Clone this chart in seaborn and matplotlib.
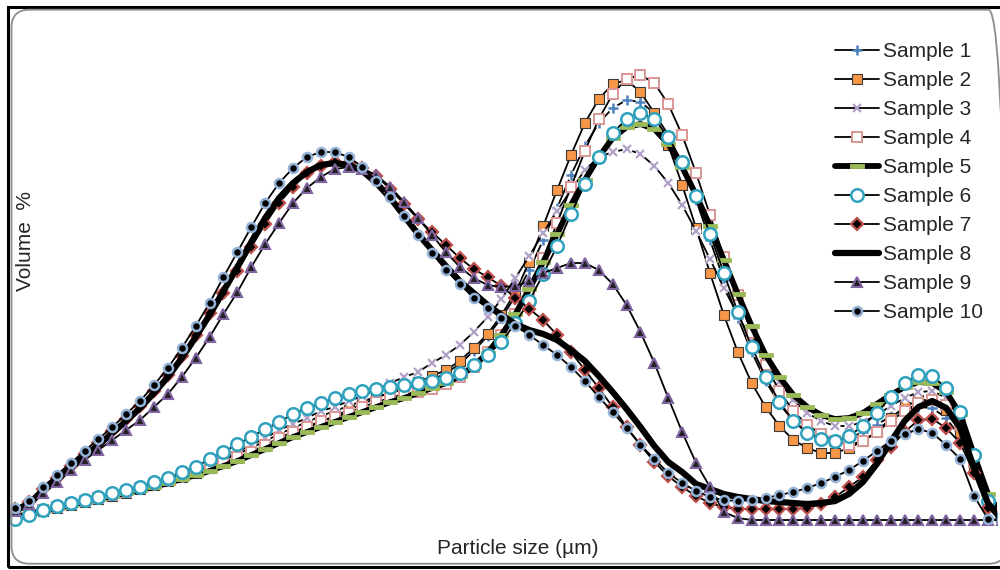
import numpy as np
import pandas as pd
import matplotlib
matplotlib.use("Agg")
import matplotlib.pyplot as plt
import seaborn as sns
from matplotlib.patches import Rectangle, FancyBboxPatch
from matplotlib.lines import Line2D

# ---------------------------------------------
# data : volume % per size class (72 classes)
# ---------------------------------------------
size_class = list(range(72))

sample1 = [0.03, 0.06, 0.10, 0.13, 0.16, 0.19, 0.22, 0.25, 0.29, 0.33, 0.37, 0.41,
           0.45, 0.50, 0.55, 0.60, 0.66, 0.72, 0.79, 0.86, 0.92, 0.98, 1.04, 1.09,
           1.14, 1.19, 1.23, 1.27, 1.31, 1.35, 1.40, 1.47, 1.56, 1.69, 1.84, 2.02,
           2.24, 2.50, 2.80, 3.12, 3.45, 3.74, 3.97, 4.12, 4.20, 4.18, 4.07, 3.85,
           3.55, 3.20, 2.80, 2.40, 2.02, 1.68, 1.39, 1.16, 0.99, 0.88, 0.82, 0.80,
           0.82, 0.88, 0.95, 1.04, 1.10, 1.13, 1.12, 1.02, 0.83, 0.50, 0.15, 0.02]

sample2 = [0.03, 0.06, 0.09, 0.12, 0.15, 0.18, 0.21, 0.24, 0.27, 0.31, 0.35, 0.39,
           0.43, 0.47, 0.52, 0.57, 0.62, 0.68, 0.74, 0.80, 0.86, 0.92, 0.98, 1.04,
           1.10, 1.16, 1.22, 1.28, 1.33, 1.38, 1.44, 1.50, 1.59, 1.72, 1.86, 2.05,
           2.28, 2.58, 2.94, 3.30, 3.65, 3.97, 4.21, 4.36, 4.40, 4.28, 4.07, 3.75,
           3.35, 2.92, 2.47, 2.05, 1.68, 1.37, 1.13, 0.94, 0.80, 0.72, 0.67, 0.67,
           0.72, 0.79, 0.88, 1.02, 1.13, 1.20, 1.20, 1.10, 0.88, 0.50, 0.15, 0.02]

sample3 = [0.03, 0.06, 0.10, 0.13, 0.16, 0.19, 0.22, 0.25, 0.28, 0.31, 0.35, 0.39,
           0.43, 0.48, 0.54, 0.61, 0.68, 0.75, 0.82, 0.90, 0.96, 1.02, 1.09, 1.13,
           1.19, 1.24, 1.30, 1.37, 1.43, 1.48, 1.57, 1.65, 1.75, 1.88, 2.03, 2.21,
           2.42, 2.64, 2.87, 3.09, 3.30, 3.50, 3.63, 3.68, 3.71, 3.66, 3.54, 3.37,
           3.15, 2.89, 2.61, 2.32, 2.05, 1.80, 1.58, 1.38, 1.20, 1.07, 0.99, 0.94,
           0.94, 0.98, 1.05, 1.14, 1.22, 1.28, 1.29, 1.22, 1.00, 0.58, 0.20, 0.03]

sample4 = [0.03, 0.06, 0.10, 0.13, 0.16, 0.19, 0.22, 0.25, 0.28, 0.32, 0.36, 0.40,
           0.44, 0.48, 0.53, 0.57, 0.63, 0.68, 0.75, 0.82, 0.88, 0.93, 0.99, 1.03,
           1.07, 1.13, 1.18, 1.22, 1.26, 1.28, 1.31, 1.36, 1.43, 1.53, 1.68, 1.85,
           2.06, 2.30, 2.62, 2.97, 3.33, 3.69, 4.01, 4.26, 4.41, 4.45, 4.37, 4.16,
           3.85, 3.47, 3.05, 2.63, 2.25, 1.87, 1.55, 1.29, 1.09, 0.95, 0.86, 0.79,
           0.75, 0.79, 0.88, 0.99, 1.09, 1.17, 1.20, 1.15, 0.95, 0.58, 0.22, 0.03]

sample5 = [0.03, 0.06, 0.09, 0.12, 0.15, 0.18, 0.21, 0.24, 0.27, 0.30, 0.33, 0.37,
           0.41, 0.45, 0.49, 0.54, 0.59, 0.65, 0.71, 0.77, 0.83, 0.88, 0.93, 0.98,
           1.03, 1.08, 1.13, 1.18, 1.22, 1.27, 1.32, 1.37, 1.44, 1.54, 1.67, 1.85,
           2.06, 2.31, 2.58, 2.86, 3.15, 3.40, 3.63, 3.82, 3.93, 3.96, 3.91, 3.76,
           3.53, 3.25, 2.94, 2.60, 2.26, 1.94, 1.65, 1.43, 1.25, 1.13, 1.05, 1.01,
           1.02, 1.07, 1.16, 1.25, 1.33, 1.38, 1.37, 1.28, 1.06, 0.65, 0.26, 0.04]

sample6 = [0.01, 0.05, 0.10, 0.14, 0.17, 0.20, 0.23, 0.27, 0.30, 0.33, 0.38, 0.42,
           0.48, 0.53, 0.61, 0.68, 0.76, 0.83, 0.91, 0.98, 1.06, 1.12, 1.17, 1.22,
           1.26, 1.29, 1.31, 1.33, 1.35, 1.37, 1.39, 1.42, 1.47, 1.55, 1.65, 1.78,
           1.97, 2.19, 2.46, 2.74, 3.06, 3.36, 3.63, 3.87, 4.01, 4.07, 4.01, 3.83,
           3.58, 3.24, 2.86, 2.47, 2.08, 1.73, 1.43, 1.18, 0.99, 0.87, 0.81, 0.79,
           0.84, 0.94, 1.07, 1.23, 1.37, 1.45, 1.44, 1.32, 1.08, 0.65, 0.19, 0.02]

sample7 = [0.11, 0.18, 0.31, 0.42, 0.54, 0.66, 0.77, 0.89, 1.01, 1.14, 1.29, 1.45,
           1.64, 1.85, 2.07, 2.27, 2.49, 2.73, 2.96, 3.17, 3.33, 3.47, 3.54, 3.58,
           3.57, 3.52, 3.44, 3.31, 3.16, 3.01, 2.88, 2.75, 2.62, 2.51, 2.43, 2.34,
           2.22, 2.11, 2.00, 1.85, 1.68, 1.50, 1.32, 1.13, 0.93, 0.75, 0.58, 0.44,
           0.33, 0.24, 0.17, 0.13, 0.11, 0.11, 0.11, 0.11, 0.11, 0.12, 0.16, 0.23,
           0.33, 0.43, 0.60, 0.73, 0.88, 1.00, 1.01, 0.92, 0.77, 0.47, 0.12, 0.00]

sample8 = [0.09, 0.16, 0.29, 0.40, 0.52, 0.64, 0.75, 0.87, 0.99, 1.12, 1.27, 1.43,
           1.62, 1.83, 2.05, 2.29, 2.53, 2.78, 3.02, 3.22, 3.37, 3.48, 3.55, 3.57,
           3.55, 3.49, 3.37, 3.22, 3.04, 2.86, 2.70, 2.54, 2.39, 2.27, 2.15, 2.05,
           1.96, 1.90, 1.86, 1.80, 1.70, 1.59, 1.44, 1.28, 1.11, 0.93, 0.74, 0.58,
           0.48, 0.36, 0.31, 0.26, 0.23, 0.21, 0.19, 0.18, 0.17, 0.16, 0.17, 0.19,
           0.26, 0.38, 0.56, 0.78, 0.99, 1.13, 1.19, 1.12, 0.92, 0.52, 0.17, 0.00]

sample9 = [0.09, 0.16, 0.27, 0.38, 0.50, 0.60, 0.70, 0.80, 0.90, 1.00, 1.13, 1.26,
           1.43, 1.62, 1.83, 2.06, 2.28, 2.53, 2.76, 2.97, 3.17, 3.32, 3.43, 3.51,
           3.53, 3.51, 3.45, 3.33, 3.18, 3.02, 2.85, 2.68, 2.53, 2.42, 2.35, 2.33,
           2.34, 2.39, 2.47, 2.52, 2.57, 2.57, 2.50, 2.36, 2.15, 1.88, 1.57, 1.22,
           0.88, 0.57, 0.33, 0.08, 0.02, 0.00, 0.00, 0.00, 0.00, 0.00, 0.00, 0.00,
           0.00, 0.00, 0.00, 0.00, 0.00, 0.00, 0.00, 0.00, 0.00, 0.00, 0.00, 0.00]

sample10 = [0.12, 0.19, 0.33, 0.45, 0.57, 0.69, 0.81, 0.93, 1.06, 1.19, 1.35, 1.52,
            1.72, 1.94, 2.17, 2.43, 2.68, 2.93, 3.17, 3.37, 3.52, 3.63, 3.68, 3.68,
            3.63, 3.53, 3.39, 3.23, 3.04, 2.85, 2.67, 2.50, 2.36, 2.22, 2.12, 2.02,
            1.94, 1.85, 1.75, 1.65, 1.53, 1.39, 1.23, 1.08, 0.92, 0.75, 0.61, 0.47,
            0.37, 0.29, 0.23, 0.20, 0.19, 0.20, 0.22, 0.25, 0.28, 0.32, 0.37, 0.43,
            0.50, 0.59, 0.69, 0.79, 0.86, 0.91, 0.87, 0.75, 0.61, 0.24, 0.01, 0.00]

series_names = ["Sample 1", "Sample 2", "Sample 3", "Sample 4", "Sample 5",
                "Sample 6", "Sample 7", "Sample 8", "Sample 9", "Sample 10"]
series_values = [sample1, sample2, sample3, sample4, sample5,
                 sample6, sample7, sample8, sample9, sample10]

# ---------------------------------------------
# styles
# ---------------------------------------------
dash_marker = [(-1, -0.28), (1, -0.28), (1, 0.28), (-1, 0.28), (-1, -0.28)]

styles = {
    "Sample 1": dict(lw=1.3, marker="+", ms=7, mew=1.8, mfc="#4F81BD", mec="#4F81BD", halo=True),
    "Sample 2": dict(lw=1.3, marker="s", ms=6.5, mew=0.8, mfc="#F79646", mec="#3a3a3a", halo=False),
    "Sample 3": dict(lw=1.3, marker="x", ms=6, mew=1.6, mfc="#B3A2C7", mec="#B3A2C7", halo=True),
    "Sample 4": dict(lw=1.3, marker="s", ms=6.5, mew=1.4, mfc="white", mec="#DA9694", halo=False),
    "Sample 5": dict(lw=4.2, marker=dash_marker, ms=10, mew=0.6, mfc="#9BBB59", mec="#9BBB59", halo=False),
    "Sample 6": dict(lw=1.3, marker="o", ms=9, mew=1.8, mfc="white", mec="#31A2BE", halo=False),
    "Sample 7": dict(lw=1.3, marker="D", ms=6, mew=1.6, mfc="black", mec="#C0504D", halo=False),
    "Sample 8": dict(lw=4.5, marker=None, ms=0, mew=0, mfc="black", mec="black", halo=False),
    "Sample 9": dict(lw=1.3, marker="^", ms=6.5, mew=1.5, mfc="#222222", mec="#8064A2", halo=False),
    "Sample 10": dict(lw=1.3, marker="o", ms=6.5, mew=1.8, mfc="black", mec="#95B3D7", halo=False),
}

sns.set_style("white")
plt.rcParams["font.family"] = ["Liberation Sans", "DejaVu Sans"]

fig = plt.figure(figsize=(10, 5.7), dpi=100)
ax = fig.add_axes([0.010, 0.0526, 0.987, 0.9298])

for name, vals in zip(series_names, series_values):
    st = styles[name]
    df = pd.DataFrame({"size": size_class, "vol": vals})
    sns.lineplot(data=df, x="size", y="vol", ax=ax, color="black", lw=st["lw"],
                 label=name, marker=None)
    if st["halo"]:
        # white ring behind the marker, breaks the line like the original
        sns.lineplot(data=df, x="size", y="vol", ax=ax, lw=0, marker="o", ms=6.5,
                     markerfacecolor="white", markeredgecolor="white",
                     label="_nolegend_")
    if st["marker"] is not None:
        sns.lineplot(data=df, x="size", y="vol", ax=ax, lw=0, marker=st["marker"],
                     ms=st["ms"], mew=st["mew"], markerfacecolor=st["mfc"],
                     markeredgecolor=st["mec"], label="_nolegend_")

ax.set_xlim(-0.36, 70.65)
ax.set_ylim(-0.2, 5.1)
ax.set_xticks([])
ax.set_yticks([])
ax.set_xlabel("")
ax.set_ylabel("")
for s in ax.spines.values():
    s.set_visible(False)
ax.patch.set_alpha(0)

# legend built from the drawn series
handles = []
for name in series_names:
    st = styles[name]
    handles.append(Line2D([], [], color="black", lw=st["lw"],
                          marker=st["marker"], ms=st["ms"], mew=st["mew"],
                          markerfacecolor=st["mfc"], markeredgecolor=st["mec"]))
ax.legend(handles, series_names, loc="upper left",
          bbox_to_anchor=(0.835, 1 - 42 / 570), bbox_transform=fig.transFigure,
          frameon=False, fontsize=15, handlelength=2.1, handletextpad=0.2,
          labelspacing=0.48, borderpad=0, borderaxespad=0)

fig.text(0.026, 1 - 241 / 570, "Volume  %", rotation=90, ha="center", va="center", fontsize=15)
fig.text(0.518, 1 - 549 / 570, "Particle size (µm)", ha="center", va="center", fontsize=15)

# outer chart frame
fig.patches.append(Rectangle((0.008, 0.006), 1.0, 0.981, transform=fig.transFigure,
                             fill=False, edgecolor="black", lw=2.2))
fig.patches.append(FancyBboxPatch((0.0115, 0.011), 0.995, 0.972,
                                  boxstyle="round,pad=0,rounding_size=0.018",
                                  transform=fig.transFigure, fill=False,
                                  edgecolor="#8c8c8c", lw=1.3,
                                  mutation_aspect=1.75))

fig.savefig("out.png", dpi=100)
